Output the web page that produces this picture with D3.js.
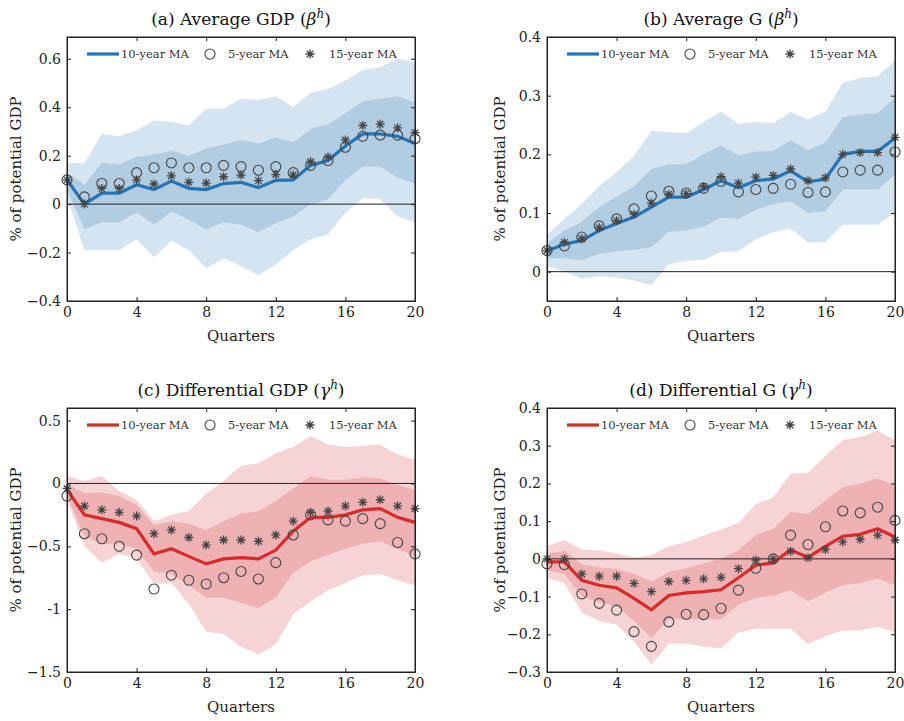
<!DOCTYPE html>
<html><head><meta charset="utf-8">
<script src="https://cdn.jsdelivr.net/npm/d3@7"></script>
<style>body{margin:0;background:#fff}svg text{font-family:"DejaVu Serif",serif !important}</style>
</head><body><svg id="c" width="904" height="721"></svg>
<script>
const quarters = d3.range(0,21);
// Panel a
const aLine=[0.10,0.0,0.045,0.045,0.08,0.06,0.095,0.065,0.06,0.085,0.09,0.068,0.098,0.10,0.16,0.18,0.24,0.29,0.29,0.28,0.25];
const aC5=[0.10,0.03,0.085,0.085,0.13,0.15,0.17,0.15,0.15,0.16,0.155,0.14,0.155,0.13,0.16,0.18,0.235,0.28,0.285,0.285,0.27];
const aS15=[0.10,0.0,0.065,0.065,0.10,0.083,0.117,0.09,0.087,0.113,0.12,0.097,0.122,0.12,0.175,0.195,0.265,0.325,0.33,0.315,0.295];
const aInHi=[0.13,0.08,0.17,0.165,0.195,0.205,0.22,0.2,0.23,0.245,0.265,0.25,0.275,0.255,0.31,0.33,0.375,0.425,0.435,0.445,0.42];
const aInLo=[0.06,-0.105,-0.075,-0.075,-0.035,-0.085,-0.03,-0.065,-0.105,-0.075,-0.085,-0.115,-0.08,-0.05,0.0,0.02,0.1,0.155,0.155,0.11,0.085];
const aOutHi=[0.17,0.17,0.29,0.28,0.305,0.345,0.34,0.325,0.395,0.395,0.435,0.43,0.445,0.40,0.46,0.475,0.51,0.555,0.565,0.60,0.585];
const aOutLo=[0.03,-0.19,-0.19,-0.19,-0.145,-0.22,-0.15,-0.19,-0.265,-0.225,-0.255,-0.295,-0.25,-0.19,-0.145,-0.125,-0.035,0.025,0.02,-0.05,-0.075];
// Panel b
const bLine=[0.035,0.047,0.053,0.07,0.082,0.093,0.11,0.127,0.127,0.14,0.155,0.143,0.155,0.158,0.172,0.153,0.158,0.2,0.205,0.205,0.228];
const bC5=[0.036,0.044,0.059,0.078,0.09,0.107,0.129,0.137,0.134,0.142,0.154,0.136,0.14,0.142,0.149,0.135,0.136,0.17,0.173,0.173,0.204];
const bS15=[0.036,0.05,0.056,0.075,0.087,0.098,0.117,0.132,0.133,0.145,0.162,0.151,0.161,0.164,0.175,0.155,0.16,0.2,0.203,0.203,0.229];
const bInHi=[0.048,0.07,0.085,0.11,0.128,0.145,0.175,0.183,0.183,0.2,0.215,0.198,0.205,0.206,0.224,0.207,0.22,0.263,0.268,0.27,0.297];
const bInLo=[0.023,0.023,0.02,0.03,0.035,0.037,0.042,0.068,0.07,0.077,0.092,0.09,0.105,0.115,0.12,0.1,0.103,0.14,0.14,0.14,0.165];
const bOutHi=[0.063,0.09,0.115,0.145,0.17,0.197,0.24,0.238,0.236,0.255,0.273,0.252,0.255,0.253,0.272,0.26,0.273,0.322,0.33,0.333,0.36];
const bOutLo=[0.01,0.0,-0.012,-0.008,-0.01,-0.015,-0.023,0.013,0.018,0.02,0.033,0.035,0.055,0.067,0.073,0.05,0.05,0.08,0.08,0.08,0.1];
// Panel c
const cLine=[-0.05,-0.25,-0.28,-0.31,-0.36,-0.56,-0.52,-0.58,-0.64,-0.6,-0.59,-0.6,-0.53,-0.38,-0.27,-0.27,-0.25,-0.21,-0.2,-0.27,-0.31];
const cC5=[-0.1,-0.4,-0.44,-0.5,-0.57,-0.84,-0.73,-0.77,-0.8,-0.75,-0.7,-0.76,-0.63,-0.41,-0.25,-0.29,-0.3,-0.28,-0.32,-0.47,-0.56];
const cS15=[-0.04,-0.18,-0.21,-0.23,-0.26,-0.4,-0.37,-0.43,-0.49,-0.45,-0.45,-0.46,-0.41,-0.3,-0.23,-0.22,-0.18,-0.15,-0.13,-0.18,-0.2];
const cInHi=[0.0,-0.08,-0.07,-0.1,-0.17,-0.33,-0.3,-0.32,-0.37,-0.3,-0.24,-0.22,-0.14,-0.04,0.06,0.03,0.03,0.05,0.04,-0.01,-0.05];
const cInLo=[-0.1,-0.42,-0.48,-0.48,-0.52,-0.7,-0.72,-0.81,-0.91,-0.91,-0.95,-0.99,-0.91,-0.71,-0.62,-0.57,-0.52,-0.48,-0.46,-0.52,-0.58];
const cOutHi=[0.06,0.02,0.06,-0.06,-0.13,-0.3,-0.25,-0.22,-0.08,0.02,0.14,0.16,0.24,0.29,0.38,0.31,0.29,0.3,0.31,0.23,0.19];
const cOutLo=[-0.13,-0.5,-0.63,-0.56,-0.6,-0.8,-0.79,-0.96,-1.18,-1.2,-1.3,-1.36,-1.28,-1.04,-0.94,-0.85,-0.79,-0.73,-0.72,-0.77,-0.81];
// Panel d
const dLine=[-0.008,-0.008,-0.057,-0.07,-0.077,-0.105,-0.135,-0.097,-0.09,-0.087,-0.082,-0.05,-0.017,-0.01,0.024,0.004,0.033,0.06,0.065,0.08,0.058];
const dC5=[-0.013,-0.015,-0.093,-0.118,-0.136,-0.193,-0.232,-0.167,-0.147,-0.148,-0.131,-0.083,-0.025,0.0,0.063,0.038,0.085,0.127,0.122,0.137,0.102];
const dS15=[0.0,0.0,-0.04,-0.046,-0.046,-0.065,-0.087,-0.06,-0.057,-0.053,-0.049,-0.026,-0.003,0.0,0.02,0.003,0.025,0.045,0.052,0.063,0.05];
const dInHi=[0.012,0.023,-0.015,-0.022,-0.027,-0.04,-0.06,-0.035,-0.025,-0.012,0.0,0.022,0.063,0.08,0.125,0.118,0.155,0.19,0.2,0.213,0.195];
const dInLo=[-0.03,-0.04,-0.1,-0.115,-0.125,-0.165,-0.21,-0.16,-0.16,-0.16,-0.16,-0.122,-0.103,-0.098,-0.083,-0.113,-0.09,-0.07,-0.065,-0.052,-0.07];
const dOutHi=[0.034,0.05,0.025,0.022,0.015,0.003,0.01,0.033,0.045,0.062,0.078,0.095,0.145,0.163,0.226,0.228,0.272,0.315,0.323,0.34,0.315];
const dOutLo=[-0.05,-0.065,-0.143,-0.165,-0.175,-0.22,-0.28,-0.225,-0.225,-0.233,-0.238,-0.195,-0.185,-0.185,-0.185,-0.226,-0.205,-0.19,-0.19,-0.18,-0.195];

const xTicks=[0,4,8,12,16,20];
const legendLabels=["10-year MA","5-year MA","15-year MA"];

const blue={line:"#2473b5",outer:"#d5e4f1",inner:"#b2cce2"};
const red={line:"#d92a2a",outer:"#f6d4d6",inner:"#efb2b4"};

const panels=[
 {title:"(a) Average GDP (",sym:"β",x:67,y:37,ylim:[-0.4,0.69],yt:[-0.4,-0.2,0,0.2,0.4,0.6],fmt:v=>v===0?"0":d3.format(".1f")(v),col:blue,L:aLine,C:aC5,S:aS15,iH:aInHi,iL:aInLo,oH:aOutHi,oL:aOutLo},
 {title:"(b) Average G (",sym:"β",x:547,y:37,ylim:[-0.05,0.4],yt:[0,0.1,0.2,0.3,0.4],fmt:v=>v===0?"0":d3.format(".1f")(v),col:blue,L:bLine,C:bC5,S:bS15,iH:bInHi,iL:bInLo,oH:bOutHi,oL:bOutLo},
 {title:"(c) Differential GDP (",sym:"γ",x:67,y:408,ylim:[-1.5,0.6],yt:[-1.5,-1,-0.5,0,0.5],fmt:v=>v===0?"0":(Number.isInteger(v)?String(v):d3.format(".1f")(v)),col:red,L:cLine,C:cC5,S:cS15,iH:cInHi,iL:cInLo,oH:cOutHi,oL:cOutLo},
 {title:"(d) Differential G (",sym:"γ",x:547,y:408,ylim:[-0.3,0.4],yt:[-0.3,-0.2,-0.1,0,0.1,0.2,0.3,0.4],fmt:v=>v===0?"0":d3.format(".1f")(v),col:red,L:dLine,C:dC5,S:dS15,iH:dInHi,iL:dInLo,oH:dOutHi,oL:dOutLo}
];
const W=348,H=264;
const svg=d3.select("#c");
const star=(g,x,y,c)=>{const r=4.5,q=r*0.72;
 g.append("path").attr("d",`M${x-r},${y}H${x+r}M${x},${y-r}V${y+r}M${x-q},${y-q}L${x+q},${y+q}M${x-q},${y+q}L${x+q},${y-q}`).attr("stroke",c).attr("stroke-width",1.3).attr("fill","none");};

panels.forEach(p=>{
 const g=svg.append("g").attr("transform",`translate(${p.x},${p.y})`);
 const xs=d3.scaleLinear().domain([0,20]).range([0,W]);
 const ys=d3.scaleLinear().domain(p.ylim).range([H,0]);
 const area=(hi,lo)=>d3.area().x((d,i)=>xs(quarters[i])).y0((d,i)=>ys(lo[i])).y1((d,i)=>ys(hi[i]))(quarters);
 g.append("path").attr("d",area(p.oH,p.oL)).attr("fill",p.col.outer);
 g.append("path").attr("d",area(p.iH,p.iL)).attr("fill",p.col.inner);
 g.append("line").attr("x1",0).attr("x2",W).attr("y1",ys(0)).attr("y2",ys(0)).attr("stroke","#222").attr("stroke-width",1);
 g.append("path").attr("d",d3.line().x((d,i)=>xs(i)).y(d=>ys(d))(p.L)).attr("fill","none").attr("stroke",p.col.line).attr("stroke-width",3.2);
 p.C.forEach((v,i)=>g.append("circle").attr("cx",xs(i)).attr("cy",ys(v)).attr("r",5).attr("fill","none").attr("stroke","#444").attr("stroke-width",1.1));
 p.S.forEach((v,i)=>star(g,xs(i),ys(v),"#444"));
 g.append("g").attr("transform",`translate(0,${H})`).call(d3.axisBottom(xs).tickValues(xTicks).tickSize(-4).tickPadding(6));
 g.append("g").call(d3.axisTop(xs).tickValues(xTicks).tickSize(-4).tickFormat(""));
 g.append("g").call(d3.axisLeft(ys).tickValues(p.yt).tickFormat(p.fmt).tickSize(-4).tickPadding(6));
 g.append("g").attr("transform",`translate(${W},0)`).call(d3.axisRight(ys).tickValues(p.yt).tickSize(-4).tickFormat(""));
 g.selectAll(".domain").attr("stroke","#222");
 g.selectAll(".tick line").attr("stroke","#222");
 g.selectAll(".tick text").attr("font-size",14).attr("fill","#222");
 g.append("rect").attr("width",W).attr("height",H).attr("fill","none").attr("stroke","#222").attr("stroke-width",1);
 const ly=17;
 g.append("line").attr("x1",20).attr("x2",52).attr("y1",ly).attr("y2",ly).attr("stroke",p.col.line).attr("stroke-width",3.2);
 g.append("text").attr("x",54).attr("y",ly+4).attr("font-size",11.5).attr("fill","#333").text(legendLabels[0]);
 g.append("circle").attr("cx",143).attr("cy",ly).attr("r",5).attr("fill","none").attr("stroke","#444").attr("stroke-width",1.1);
 g.append("text").attr("x",161).attr("y",ly+4).attr("font-size",11.5).attr("fill","#333").text(legendLabels[1]);
 star(g,243,ly,"#444");
 g.append("text").attr("x",262).attr("y",ly+4).attr("font-size",11.5).attr("fill","#333").text(legendLabels[2]);
 const t=g.append("text").attr("x",W/2).attr("y",-12).attr("text-anchor","middle").attr("font-size",17).attr("fill","#111");
 t.append("tspan").text(p.title);
 t.append("tspan").attr("font-style","italic").text(p.sym);
 t.append("tspan").attr("font-style","italic").attr("font-size",12).attr("dy",-7).text("h");
 t.append("tspan").attr("dy",7).text(")");
 g.append("text").attr("x",W/2).attr("y",H+40).attr("text-anchor","middle").attr("font-size",15).attr("fill","#222").text("Quarters");
 g.append("text").attr("transform",`translate(${(p.x<300?21:505)-p.x},${H/2}) rotate(-90)`).attr("text-anchor","middle").attr("font-size",15).attr("fill","#222").text("% of potential GDP");
});
</script></body></html>
